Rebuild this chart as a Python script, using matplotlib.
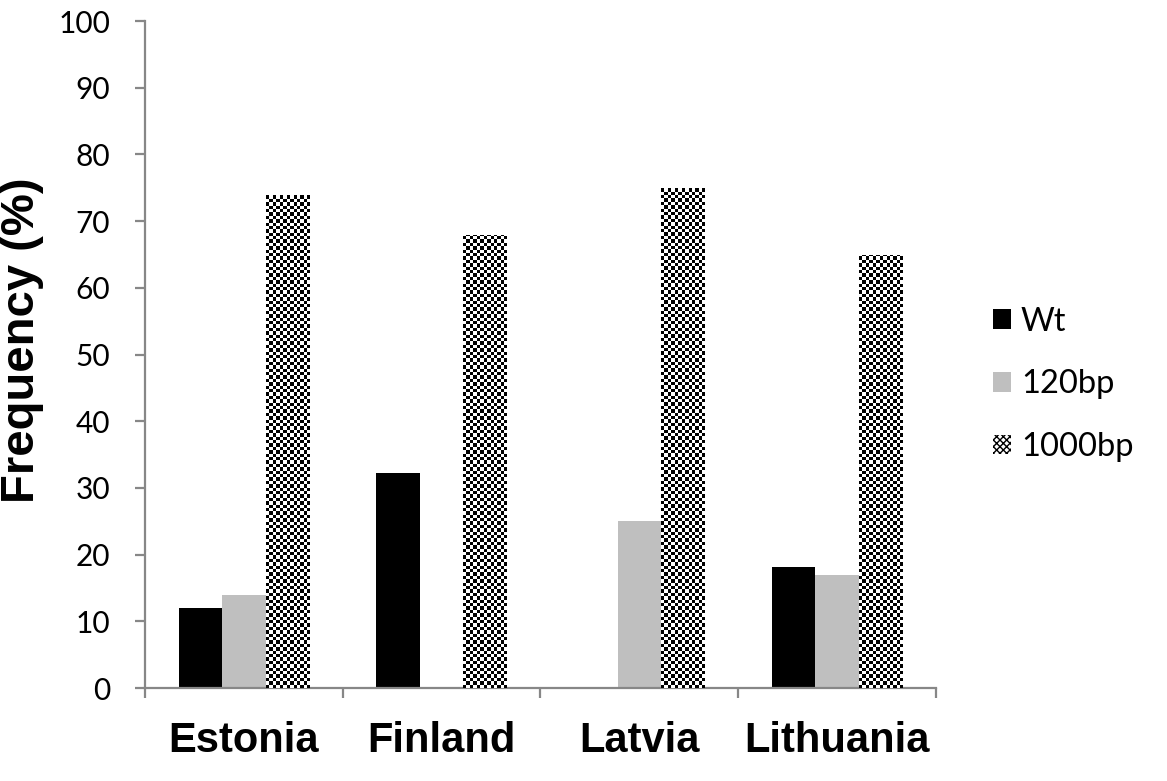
import numpy as np
import matplotlib
matplotlib.use("Agg")
import matplotlib.pyplot as plt
from matplotlib.patches import Patch

# data
countries = ["Estonia", "Finland", "Latvia", "Lithuania"]
series_names = ["Wt", "120bp", "1000bp"]
wt = [12, 32.2, 0, 18.1]
bp120 = [14, 0, 25, 17]
bp1000 = [74, 68, 75, 65]
yticks = [0, 10, 20, 30, 40, 50, 60, 70, 80, 90, 100]

fig = plt.figure(figsize=(11.67, 7.81), dpi=100)
ax = fig.add_axes([0.1243, 0.119, 0.802 - 0.1243, 0.973 - 0.119])

x = np.arange(len(countries))
w = 0.22

ax.bar(x - w, wt, w, color="black", zorder=2)
ax.bar(x, bp120, w, color="#bfbfbf", zorder=2)
checker_bars = ax.bar(x + w, bp1000, w, color="white", zorder=2)

# checkerboard fill for the 1000bp bars, clipped to each bar
cell_px = 3.4
px_per_x = 789 / 4.0
px_per_y = 668 / 100.0
for bar in checker_bars:
    x0 = bar.get_x()
    bw = bar.get_width()
    bh = bar.get_height()
    nx = int(np.ceil(bw * px_per_x / cell_px))
    ny = int(np.ceil(bh * px_per_y / cell_px))
    ii, jj = np.indices((ny, nx))
    board = (ii + jj) % 2
    im = ax.imshow(board, cmap="gray",
                   extent=[x0, x0 + nx * cell_px / px_per_x, 0, ny * cell_px / px_per_y],
                   origin="lower", aspect="auto", interpolation="nearest", zorder=3)
    im.set_clip_path(bar)

ax.set_xlim(-0.5, 3.5)
ax.set_ylim(0, 100)

spine_col = "#878787"
for s in ["top", "right"]:
    ax.spines[s].set_visible(False)
for s in ["left", "bottom"]:
    ax.spines[s].set_color(spine_col)
    ax.spines[s].set_linewidth(1.6)

ax.set_yticks(yticks)
ax.set_yticklabels([str(v) for v in yticks], fontsize=21.5, family="Lato")
ax.tick_params(axis="y", direction="out", length=7, width=1.6, color=spine_col, pad=18)

ax.set_xticks(x)
ax.set_xticklabels(countries, fontsize=30, fontweight="bold", family="Liberation Sans")
ax.tick_params(axis="x", which="major", length=0, pad=24)
ax.set_xticks(np.arange(-0.5, 4.0, 1.0), minor=True)
ax.tick_params(axis="x", which="minor", direction="out", length=7, width=1.6, color=spine_col)

ax.set_ylabel("Frequency (%)", fontsize=34, fontweight="bold", family="Liberation Sans")
ax.yaxis.set_label_coords(-0.128, 0.521)

handles = [
    Patch(facecolor="black", edgecolor="none"),
    Patch(facecolor="#bfbfbf", edgecolor="none"),
    Patch(facecolor="white", edgecolor="black", hatch="xxxxx", linewidth=0),
]
fig.legend(handles, series_names, loc="center left", bbox_to_anchor=(0.851, 0.508),
           frameon=False, prop={"family": "Lato", "size": 23.5},
           handlelength=0.55, handleheight=0.55, handletextpad=0.3,
           labelspacing=1.0, borderpad=0, borderaxespad=0)

fig.savefig("out.png", dpi=100)
